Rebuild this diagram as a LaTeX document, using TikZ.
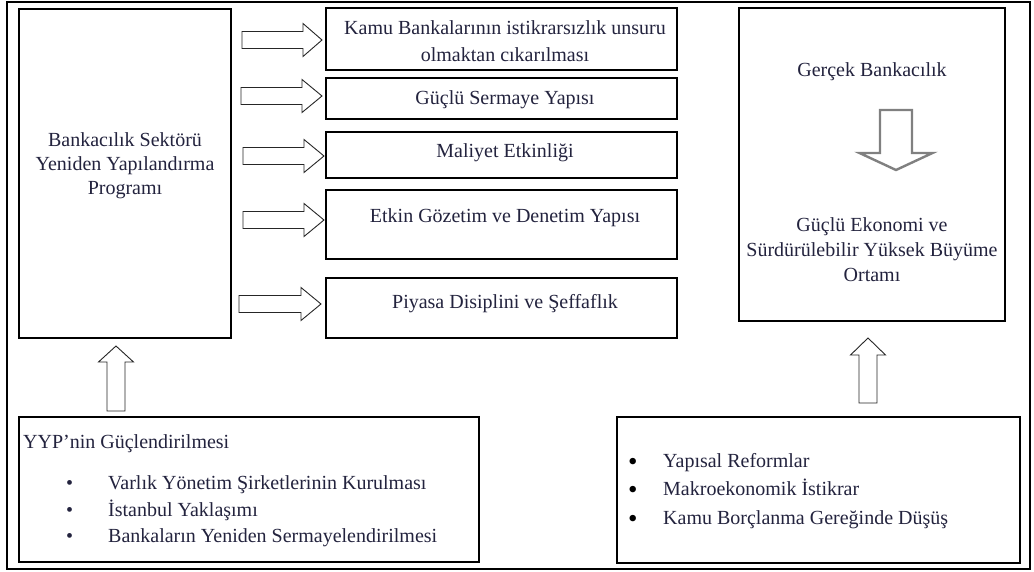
\documentclass[tikz,border=0pt]{standalone}
\usepackage{fontspec}
\setmainfont{Liberation Serif}
\definecolor{txt}{RGB}{35,35,62}
\definecolor{arrgray}{RGB}{128,128,128}
\newcommand\rightblock[4]{% x1, headbase, tip, yc
  \draw[arr] ({#1},{#4-8.5}) -- ({#2},{#4-8.5}) -- ({#2},{#4-16.5}) -- ({#3},{#4}) -- ({#2},{#4+16.5}) -- ({#2},{#4+8.5}) -- ({#1},{#4+8.5}) -- cycle;}
\newcommand\upblock[4]{% cx, tip, headbase, bottom
  \draw[arr] ({#1-9},{#4}) -- ({#1-9},{#3}) -- ({#1-17.5},{#3}) -- ({#1},{#2}) -- ({#1+17.5},{#3}) -- ({#1+9},{#3}) -- ({#1+9},{#4}) -- cycle;}
\begin{document}
\begin{tikzpicture}[x=1pt,y=-1pt,
  box/.style={draw=black, line width=1.6pt, rectangle, inner sep=0pt},
  arr/.style={draw=black!85, line width=0.9pt, fill=white},
  lbl/.style={text=txt, font=\fontsize{20}{25}\selectfont, align=center, inner sep=0pt},
  lbll/.style={text=txt, font=\fontsize{20}{25}\selectfont, align=left, anchor=base west, inner sep=0pt},
  bigbul/.style={lbll, text=black, font=\fontsize{27}{25}\selectfont}]
\useasboundingbox (0,0) rectangle (1034,572);
\fill[white] (0,0) rectangle (1034,572);
% outer frame
\node[box, line width=1.3pt, minimum width=1023pt, minimum height=567pt] (frame) at (518.5,285.5) {};
% left program box
\node[box, minimum width=212pt, minimum height=329pt] (prog) at (125,173.5) {};
\node[lbl, font=\fontsize{20}{24}\selectfont] (progt) at (125,166) {Bankacılık Sektörü\\Yeniden Yapılandırma\\Programı};
% target boxes
\node[box, minimum width=351pt, minimum height=62pt] (b1) at (501.5,39) {};
\node[lbl, font=\fontsize{20}{27}\selectfont] (b1t) at (505,41) {Kamu Bankalarının istikrarsızlık unsuru\\olmaktan cıkarılması};
\node[box, minimum width=351pt, minimum height=41pt] (b2) at (501.5,98.5) {};
\node[lbl] (b2t) at (505,100) {Güçlü Sermaye Yapısı};
\node[box, minimum width=351pt, minimum height=46pt] (b3) at (501.5,155) {};
\node[lbl] (b3t) at (505,153) {Maliyet Etkinliği};
\node[box, minimum width=351pt, minimum height=69pt] (b4) at (501.5,224.5) {};
\node[lbl] (b4t) at (505,218) {Etkin Gözetim ve Denetim Yapısı};
\node[box, minimum width=351pt, minimum height=60pt] (b5) at (501.5,308) {};
\node[lbl] (b5t) at (505,304) {Piyasa Disiplini ve Şeffaflık};
% right arrows
\rightblock{242}{303}{322}{40}
\rightblock{241}{302}{322}{96}
\rightblock{243}{304}{324}{156}
\rightblock{243}{304}{324}{220}
\rightblock{239}{301}{321}{304}
% right box
\node[box, minimum width=266pt, minimum height=313pt] (goal) at (872,164.5) {};
\node[lbl] (goalt1) at (872,72) {Gerçek Bankacılık};
\node[lbl] (goalt2) at (872,250) {Güçlü Ekonomi ve\\Sürdürülebilir Yüksek Büyüme\\Ortamı};
\draw[draw=arrgray, line width=2.4pt, line join=miter, fill=white]
  (880,110) -- (912,110) -- (912,153) -- (932.5,153) -- (896,170) -- (859.5,153) -- (880,153) -- cycle;
% bottom left box
\node[box, minimum width=460pt, minimum height=145pt] (yyp) at (249,489.5) {};
\node[lbll] (yypt) at (23,448) {YYP’nin Güçlendirilmesi};
\node[lbll] (yb1) at (66,489) {•};
\node[lbll] (yi1) at (108,489) {Varlık Yönetim Şirketlerinin Kurulması};
\node[lbll] (yb2) at (66,516) {•};
\node[lbll] (yi2) at (108,516) {İstanbul Yaklaşımı};
\node[lbll] (yb3) at (66,542) {•};
\node[lbll] (yi3) at (108,542) {Bankaların Yeniden Sermayelendirilmesi};
% bottom right box
\node[box, minimum width=403pt, minimum height=146pt] (macro) at (818.5,490) {};
\node[bigbul] (mb1) at (628,470) {•};
\node[lbll] (mi1) at (663,467) {Yapısal Reformlar};
\node[bigbul] (mb2) at (628,498) {•};
\node[lbll] (mi2) at (663,495) {Makroekonomik İstikrar};
\node[bigbul] (mb3) at (628,527) {•};
\node[lbll] (mi3) at (663,524) {Kamu Borçlanma Gereğinde Düşüş};
% up arrows
\upblock{116}{346}{362}{411}
\upblock{868}{338}{355}{403}
\end{tikzpicture}
\end{document}
